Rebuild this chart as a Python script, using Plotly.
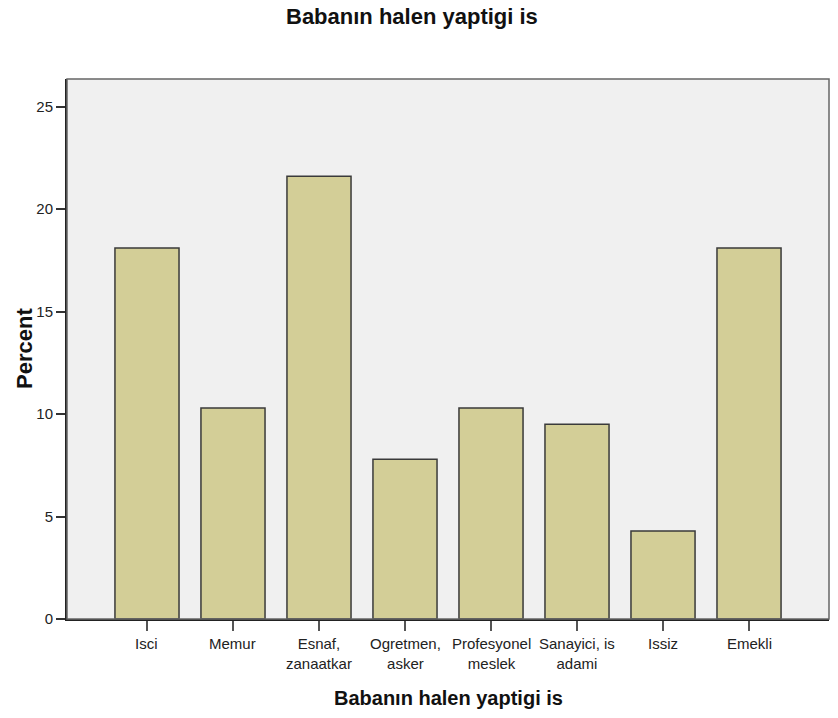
import plotly.graph_objects as go

# Father's current occupation, percent of respondents
categories = ["Isci", "Memur", "Esnaf,<br>zanaatkar", "Ogretmen,<br>asker",
              "Profesyonel<br>meslek", "Sanayici, is<br>adami", "Issiz", "Emekli"]
percent = [18.1, 10.3, 21.6, 7.8, 10.3, 9.5, 4.3, 18.1]
y_ticks = [0, 5, 10, 15, 20, 25]

title_text = "Babanın halen yaptigi is"
y_title = "Percent"

font_family = "Arial, Liberation Sans, sans-serif"

fig = go.Figure(
    go.Bar(
        x=categories,
        y=percent,
        width=0.745,
        marker=dict(color="#d3ce97", line=dict(color="#3a3a3a", width=1.5)),
        hoverinfo="x+y",
    )
)

# category labels under each tick, one (possibly wrapped) text per category
label_annotations = [
    dict(text=cat, x=cat, xref="x", y=0, yref="paper",
         yshift=-15, xanchor="center", yanchor="top", align="center",
         showarrow=False, borderpad=0, font=dict(size=15, color="#222222"))
    for cat in categories
]

fig.update_layout(
    width=838,
    height=718,
    margin=dict(l=67, r=9, t=79, b=99),
    paper_bgcolor="white",
    plot_bgcolor="#f0f0f0",
    showlegend=False,
    font=dict(family=font_family, size=15, color="#222222"),
    xaxis=dict(
        type="category",
        range=[-0.93, 7.93],
        showgrid=False,
        zeroline=False,
        showline=True,
        linecolor="#222222",
        linewidth=2,
        ticks="outside",
        ticklen=10,
        tickwidth=1.5,
        tickcolor="#555555",
        showticklabels=False,
    ),
    yaxis=dict(
        range=[0, 26.35],
        tickvals=y_ticks,
        showgrid=False,
        zeroline=False,
        showline=True,
        linecolor="#222222",
        linewidth=2,
        ticks="outside",
        ticklen=9,
        tickwidth=1.5,
        tickcolor="#333333",
        tickfont=dict(size=15, color="#222222"),
    ),
    shapes=[
        dict(type="rect", xref="paper", yref="paper", x0=0, y0=0, x1=1, y1=1,
             line=dict(color="#666666", width=1.5), layer="above"),
    ],
    annotations=label_annotations + [
        dict(text="<b>" + title_text + "</b>", xref="paper", yref="paper",
             x=0.5, xshift=-36, y=1, yshift=63, xanchor="center", yanchor="middle",
             showarrow=False, font=dict(size=22, color="#111111")),
        dict(text="<b>" + title_text + "</b>", xref="paper", yref="paper",
             x=0.5, y=0, yshift=-79, xanchor="center", yanchor="middle",
             showarrow=False, font=dict(size=20, color="#111111")),
        dict(text="<b>" + y_title + "</b>", xref="paper", yref="paper",
             x=0, xshift=-43, y=0.5, xanchor="center", yanchor="middle",
             textangle=-90, showarrow=False, font=dict(size=22, color="#111111")),
    ],
)

fig.write_html("out.html")
